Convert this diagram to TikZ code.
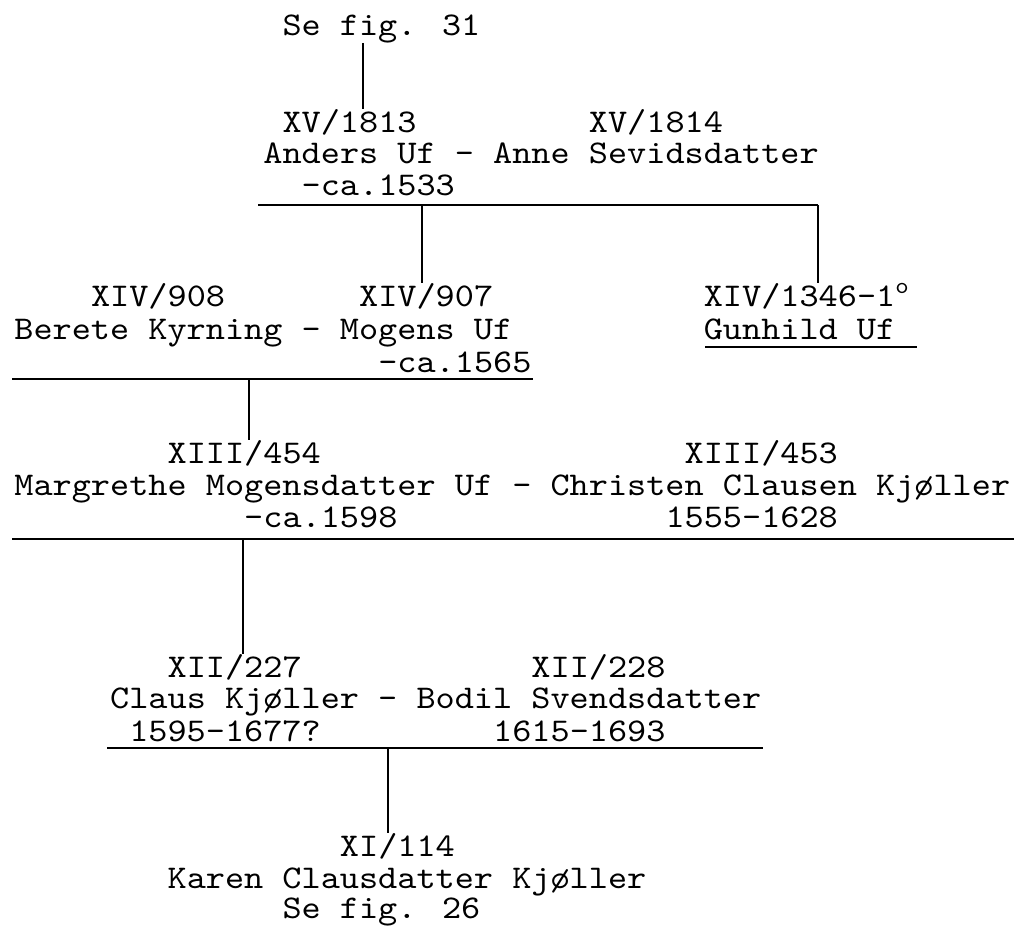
\documentclass[tikz,border=0pt]{standalone}
\usepackage{fontspec}
\usepackage{tikz}

\newfontfamily\typefam{lmmono10-regular.otf}[FakeStretch=1.1]
\newcommand\typew{\typefam\fontsize{16.58}{20}\selectfont}

\begin{document}
\begin{tikzpicture}[x=0.5pt, y=-0.5pt,
        txt/.style={anchor=base west, inner sep=0pt, font=\typew},
        bar/.style={line width=1.4pt},
        link/.style={line width=1.1pt}]
        \useasboundingbox (0,0) rectangle (1014,927);

        % generation XV
        \node[txt] (se31) at (282.1, 35) {Se fig. 31};
        \node[txt] (x1813) at (282.1, 132) {XV/1813};
        \node[txt] (x1814) at (588.5, 132) {XV/1814};
        \node[txt] (anders) at (263, 163) {Anders Uf - Anne Sevidsdatter};
        \node[txt] (d1533) at (301.25, 195) {-ca.1533};

        % generation XIV
        \node[txt] (x908) at (90.6, 306) {XIV/908};
        \node[txt] (x907) at (358.7, 306) {XIV/907};
        \node[txt] (x1346) at (703.4, 306) {XIV/1346-1\textsuperscript{o}};
        \node[txt] (berete) at (14, 339) {Berete Kyrning - Mogens Uf};
        \node[txt] (gunhild) at (703.4, 339) {Gunhild Uf};
        \node[txt] (d1565) at (377.85, 372) {-ca.1565};

        % generation XIII
        \node[txt] (x454) at (167.2, 463) {XIII/454};
        \node[txt] (x453) at (684.25, 463) {XIII/453};
        \node[txt] (margrethe) at (14, 495) {Margrethe Mogensdatter Uf - Christen Clausen Kjøller};
        \node[txt] (d1598) at (243.8, 527) {-ca.1598};
        \node[txt] (d1555) at (665.1, 527) {1555-1628};

        % generation XII
        \node[txt] (x227) at (167.2, 677) {XII/227};
        \node[txt] (x228) at (531.05, 677) {XII/228};
        \node[txt] (claus) at (109.75, 708) {Claus Kjøller - Bodil Svendsdatter};
        \node[txt] (d1595) at (128.9, 741) {1595-1677?};
        \node[txt] (d1615) at (492.75, 741) {1615-1693};

        % generation XI
        \node[txt] (x114) at (339.55, 856) {XI/114};
        \node[txt] (karen) at (167.2, 888) {Karen Clausdatter Kjøller};
        \node[txt] (se26) at (282.1, 918) {Se fig. 26};

        % bars under the couples
        \coordinate (u1a) at (258, 205);
        \coordinate (u1b) at (818, 205);
        \coordinate (u1c) at (422, 205);
        \coordinate (u2a) at (12, 379);
        \coordinate (u2b) at (533, 379);
        \coordinate (u2c) at (249, 379);
        \coordinate (u3a) at (12, 539);
        \coordinate (u3b) at (1014, 539);
        \coordinate (u3c) at (243, 539);
        \coordinate (u4a) at (107, 748);
        \coordinate (u4b) at (763, 748);
        \coordinate (u4c) at (388, 748);
        \coordinate (g1) at (705, 347);
        \coordinate (g2) at (917, 347);
        \coordinate (t1) at (363, 0);

        \draw[bar] (u1a) -- (u1b);
        \draw[bar] (u2a) -- (u2b);
        \draw[bar] (u3a) -- (u3b);
        \draw[bar] (u4a) -- (u4b);
        \draw[bar] (g1) -- (g2);

        % lines of descent
        \draw[link] (t1 |- se31.south) -- (t1 |- x1813.north);
        \draw[link] (u1c) -- (u1c |- x907.north);
        \draw[link] (u1b) -- (u1b |- x1346.north);
        \draw[link] (u2c) -- (u2c |- x454.north);
        \draw[link] (u3c) -- (u3c |- x227.north);
        \draw[link] (u4c) -- (u4c |- x114.north);
    \end{tikzpicture}
\end{document}
